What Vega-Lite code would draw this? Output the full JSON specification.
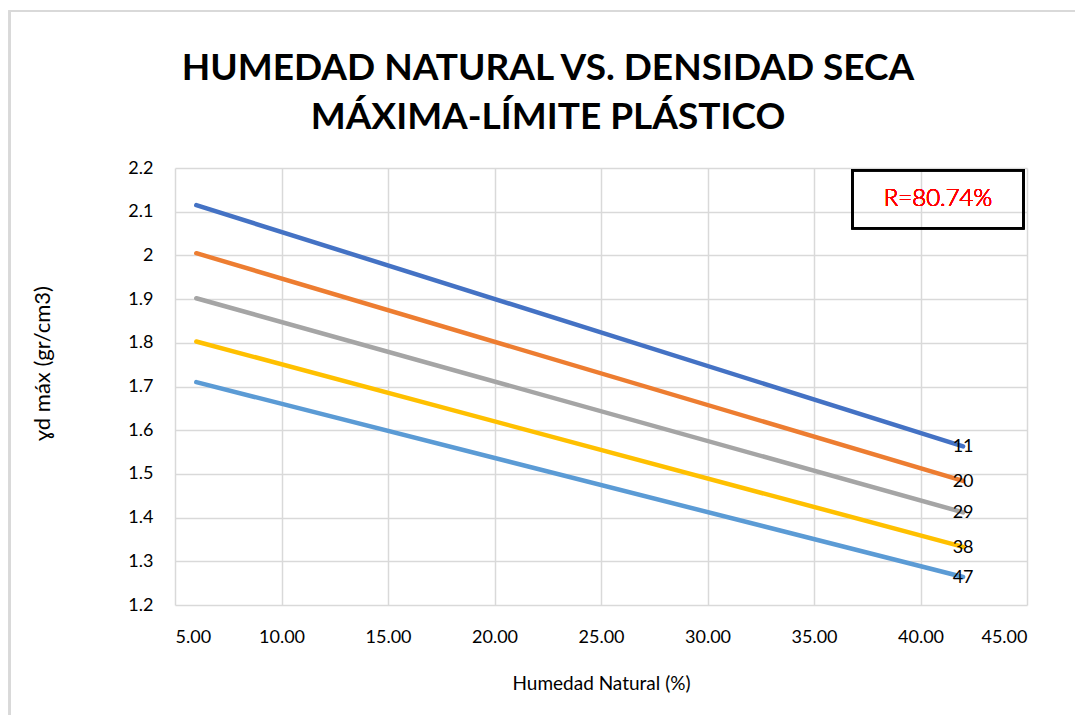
{
  "$schema": "https://vega.github.io/schema/vega-lite/v6.json",
  "autosize": {"type": "none"},
  "width": 852,
  "height": 437,
  "padding": {"left": 175, "top": 168, "right": 48, "bottom": 110},
  "background": "white",
  "title": {
    "text": ["HUMEDAD NATURAL VS. DENSIDAD SECA", "MÁXIMA-LÍMITE PLÁSTICO"],
    "font": "Lato",
    "fontSize": 37,
    "fontWeight": "bold",
    "color": "black",
    "anchor": "middle",
    "frame": "group",
    "dx": -53,
    "lineHeight": 49,
    "offset": -127
  },
  "config": {
    "view": {"stroke": null},
    "font": "Lato",
    "axis": {
      "labelFont": "Lato",
      "labelFontSize": 18,
      "labelColor": "black",
      "titleFont": "Lato",
      "titleFontWeight": "normal",
      "titleColor": "black",
      "gridColor": "#d9d9d9",
      "gridWidth": 1.5,
      "domain": false,
      "ticks": false
    }
  },
  "data": {
    "values": [
      {"w": 6.0, "d": 2.115, "ll": "11"},
      {"w": 42.0, "d": 1.563, "ll": "11"},
      {"w": 6.0, "d": 2.005, "ll": "20"},
      {"w": 42.0, "d": 1.484, "ll": "20"},
      {"w": 6.0, "d": 1.902, "ll": "29"},
      {"w": 42.0, "d": 1.412, "ll": "29"},
      {"w": 6.0, "d": 1.803, "ll": "38"},
      {"w": 42.0, "d": 1.333, "ll": "38"},
      {"w": 6.0, "d": 1.71, "ll": "47"},
      {"w": 42.0, "d": 1.264, "ll": "47"}
    ]
  },
  "layer": [
    {
      "mark": {"type": "line", "strokeWidth": 4.5, "strokeCap": "round"},
      "encoding": {
        "x": {
          "field": "w",
          "type": "quantitative",
          "scale": {"domain": [5, 45], "nice": false, "zero": false},
          "axis": {
            "title": "Humedad Natural (%)",
            "titleFontSize": 19,
            "titlePadding": 28,
            "values": [5, 10, 15, 20, 25, 30, 35, 40, 45],
            "format": ".2f",
            "labelPadding": 23
          }
        },
        "y": {
          "field": "d",
          "type": "quantitative",
          "scale": {"domain": [1.2, 2.2], "nice": false, "zero": false},
          "axis": {
            "title": "ɣd máx (gr/cm3)",
            "titleFontSize": 22,
            "titlePadding": 73,
            "titleY": 195,
            "values": [1.2, 1.3, 1.4, 1.5, 1.6, 1.7, 1.8, 1.9, 2.0, 2.1, 2.2],
            "format": ".1~f",
            "labelPadding": 22
          }
        },
        "color": {
          "field": "ll",
          "type": "nominal",
          "scale": {
            "domain": ["11", "20", "29", "38", "47"],
            "range": ["#4472C4", "#ED7D31", "#A5A5A5", "#FFC000", "#5B9BD5"]
          },
          "legend": null
        }
      }
    },
    {
      "transform": [{"filter": "datum.w > 40"}],
      "mark": {"type": "text", "font": "Lato", "fontSize": 18, "fontWeight": "normal", "color": "black", "align": "center", "baseline": "middle", "dy": 1},
      "encoding": {
        "x": {"field": "w", "type": "quantitative"},
        "y": {"field": "d", "type": "quantitative"},
        "text": {"field": "ll"}
      }
    },
    {
      "mark": {"type": "rect", "fill": null, "fillOpacity": 0, "stroke": "black", "strokeWidth": 2},
      "encoding": {
        "x": {"datum": 36.8},
        "x2": {"datum": 44.84},
        "y": {"datum": 2.195},
        "y2": {"datum": 2.062}
      }
    },
    {
      "mark": {"type": "text", "font": "Lato", "fontSize": 24, "fontWeight": 300, "color": "#FF0000", "align": "center", "baseline": "middle"},
      "encoding": {
        "x": {"datum": 40.82},
        "y": {"datum": 2.128},
        "text": {"value": "R=80.74%"}
      }
    },
    {
      "mark": {"type": "rule", "stroke": "#d9d9d9", "strokeWidth": 2, "clip": false},
      "encoding": {
        "x": {"datum": -2.78},
        "y": {"datum": 2.56},
        "y2": {"datum": 0.94}
      }
    },
    {
      "mark": {"type": "rule", "stroke": "#d9d9d9", "strokeWidth": 2, "clip": false},
      "encoding": {
        "x": {"datum": -2.78},
        "x2": {"datum": 47.5},
        "y": {"datum": 2.559}
      }
    }
  ]
}
